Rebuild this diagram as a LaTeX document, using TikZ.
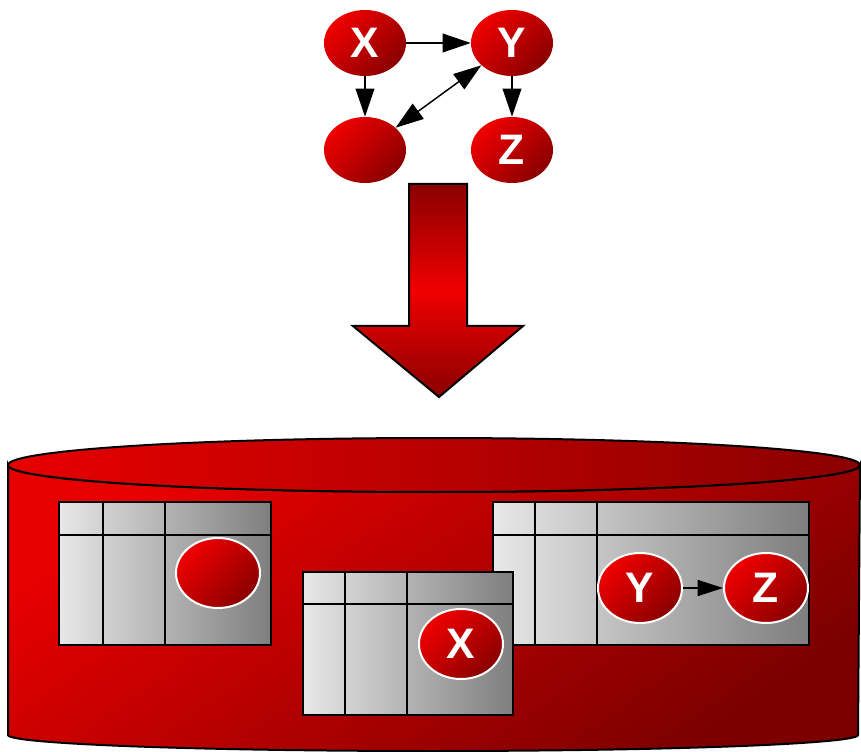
\documentclass[tikz,border=0pt]{standalone}
\usepackage{fontspec}
\setsansfont{Liberation Sans}
\usetikzlibrary{shapes.geometric,arrows.meta}
\definecolor{redlight}{HTML}{F00000}
\definecolor{reddark}{HTML}{8A0000}
\definecolor{cylred}{HTML}{E80000}
\definecolor{cyldark}{HTML}{7C0000}
\definecolor{graylight}{HTML}{E8E8E8}
\definecolor{graydark}{HTML}{7E7E7E}
\begin{document}
\begin{tikzpicture}[x=0.75pt,y=-0.75pt,
  ball/.style={ellipse, inner sep=0pt, minimum width=82*0.75pt, minimum height=66*0.75pt,
    top color=redlight, bottom color=reddark, shading angle=45, text=white,
    font=\sffamily\bfseries\fontsize{32}{32}\selectfont},
  wball/.style={ball, draw=white, line width=1.5pt, minimum width=84*0.75pt, minimum height=70*0.75pt},
  arr/.style={-{Triangle[length=21pt,width=14pt]}, line width=1.1pt, black},
  darr/.style={{Triangle[length=21pt,width=14pt]}-{Triangle[length=21pt,width=14pt]}, line width=1.1pt, black},
  sarr/.style={-{Triangle[length=19pt,width=12pt]}, line width=1.1pt, black},
  tablefill/.style={left color=graylight, right color=graydark},
  tableline/.style={draw=black, line width=1.5pt},
  outline/.style={draw=black, line width=1.5pt}]
\useasboundingbox (0,0) rectangle (861,752);

% top graph
\node[ball] (nX) at (365,43) {X};
\node[ball] (nY) at (512,43) {Y};
\node[ball] (nW) at (365,150) {};
\node[ball] (nZ) at (512,150) {Z};
\draw[arr] (nX) -- (nY);
\draw[arr] (nX) -- (nW);
\draw[arr] (nY) -- (nZ);
\draw[darr] (nY) -- (nW);

% big arrow
\draw[outline, top color=reddark, bottom color=reddark, middle color=redlight]
  (409,184) -- (467,184) -- (467,326) -- (523,326) -- (439,397) -- (353,326) -- (409,326) -- cycle;

% cylinder side
\draw[outline, top color=cylred, bottom color=cyldark, shading angle=35]
  (8,465) -- (8,735) arc[start angle=180, end angle=360, x radius=425, y radius=-16]
  -- (860,465) arc[start angle=0, end angle=-180, x radius=426, y radius=-27] -- cycle;
% cylinder top
\draw[outline, left color=cylred, right color=reddark]
  (434,465) ellipse[x radius=426, y radius=27];

% table 1
\shade[tablefill] (59,502) rectangle (271,645);
\draw[tableline] (59,502) rectangle (271,645) (59,535) -- (271,535)
  (103,502) -- (103,645) (165,502) -- (165,645);
% table 3
\shade[tablefill] (493,502) rectangle (809,645);
\draw[tableline] (493,502) rectangle (809,645) (493,535) -- (809,535)
  (535,502) -- (535,645) (597,502) -- (597,645);
% table 2
\shade[tablefill] (303,572) rectangle (513,715);
\draw[tableline] (303,572) rectangle (513,715) (303,604) -- (513,604)
  (345,572) -- (345,715) (407,572) -- (407,715);

\node[wball] (tW) at (218,573) {};
\node[wball] (tX) at (461,644) {X};
\node[wball] (tY) at (640,588) {Y};
\node[wball] (tZ) at (766,588) {Z};
\draw[sarr] (tY) -- (tZ);
\end{tikzpicture}
\end{document}
